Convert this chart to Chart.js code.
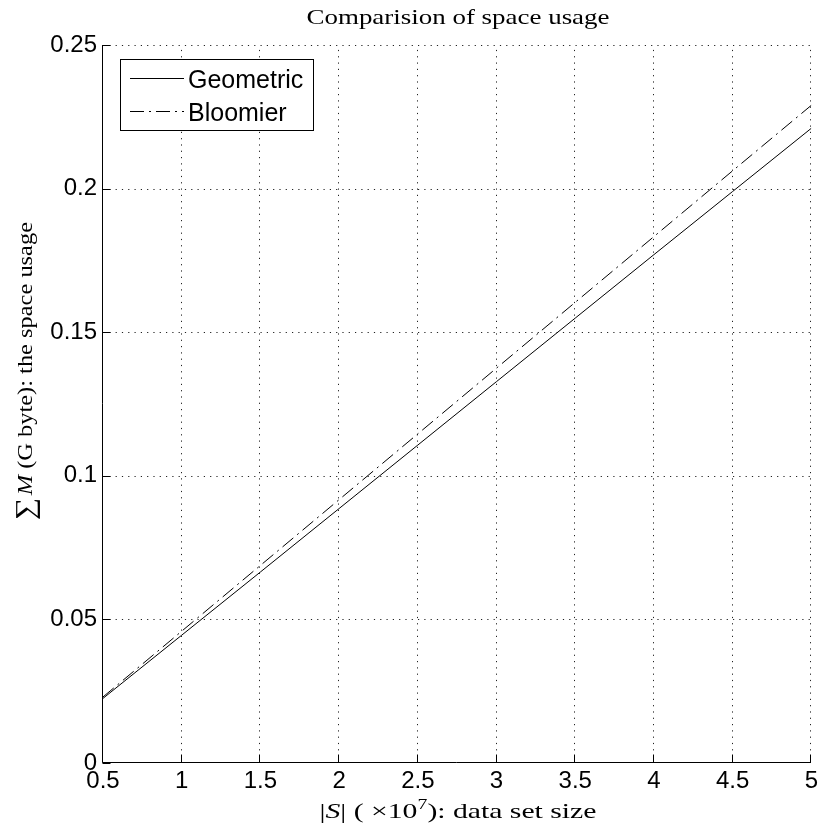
<!DOCTYPE html>
<html><head><meta charset="utf-8">
<script src="https://cdn.jsdelivr.net/npm/chart.js@4/dist/chart.umd.min.js"></script>
<style>html,body{margin:0;padding:0;background:#fff;}#wrap{width:822px;height:831px;position:relative;}</style>
</head><body><div id="wrap"><canvas id="c" width="822" height="831"></canvas></div>
<script>
const titleText = 'Comparision of space usage';
const seriesNames = ['Geometric', 'Bloomier'];
const xValues = [0.5, 1, 1.5, 2, 2.5, 3, 3.5, 4, 4.5, 5];
const geometric = [0.0225, 0.0445, 0.0665, 0.0886, 0.1107, 0.1328, 0.1549, 0.1770, 0.1990, 0.2210];
const bloomier = [0.0230, 0.0459, 0.0688, 0.0917, 0.1146, 0.1375, 0.1604, 0.1833, 0.2062, 0.2290];
const xTicks = [0.5, 1, 1.5, 2, 2.5, 3, 3.5, 4, 4.5, 5];
const xTickLabels = ['0.5', '1', '1.5', '2', '2.5', '3', '3.5', '4', '4.5', '5'];
const yTicks = [0, 0.05, 0.1, 0.15, 0.2, 0.25];
const yTickLabels = ['0', '0.05', '0.1', '0.15', '0.2', '0.25'];

const SANS = '"Liberation Sans", Arial, sans-serif';
const SERIF = '"Liberation Serif", "DejaVu Serif", serif';

function drawFitted(ctx, pieces, targetWidth) {
  let total = 0;
  pieces.forEach(p => { ctx.font = p.font; p.w = ctx.measureText(p.t).width + (p.gap || 0); total += p.w; });
  const sx = targetWidth / total;
  ctx.save();
  ctx.scale(sx, 1);
  let xp = -total / 2;
  ctx.textBaseline = 'alphabetic';
  ctx.textAlign = 'left';
  ctx.fillStyle = '#000';
  pieces.forEach(p => { ctx.font = p.font; ctx.fillText(p.t, xp, p.dy || 0); xp += p.w; });
  ctx.restore();
}

const matlabPlugin = {
  id: 'matlab',
  beforeDatasetsDraw(chart) {
    const { ctx, chartArea: a, scales: { x, y } } = chart;
    ctx.save();
    ctx.strokeStyle = '#222';
    ctx.lineWidth = 1;
    ctx.setLineDash([1.2, 5.1]);
    xTicks.forEach(v => {
      if (v === x.min) return;
      const px = Math.round(x.getPixelForValue(v)) - 0.5;
      ctx.beginPath(); ctx.moveTo(px, a.bottom); ctx.lineTo(px, a.top); ctx.stroke();
    });
    yTicks.forEach(v => {
      if (v === y.min) return;
      const py = Math.round(y.getPixelForValue(v)) + 0.5;
      ctx.beginPath(); ctx.moveTo(a.left, py); ctx.lineTo(a.right, py); ctx.stroke();
    });
    ctx.restore();
  },
  afterDatasetsDraw(chart) {
    const { ctx, chartArea: a, scales: { x, y } } = chart;
    ctx.save();
    ctx.strokeStyle = '#000';
    ctx.lineWidth = 1;
    ctx.setLineDash([]);
    const L = Math.round(a.left) - 0.5, B = Math.round(a.bottom) - 0.5;
    ctx.beginPath();
    ctx.moveTo(L, Math.round(a.top)); ctx.lineTo(L, B); ctx.lineTo(Math.round(a.right), B);
    ctx.stroke();
    const tl = 8;
    xTicks.forEach(v => {
      const px = Math.round(x.getPixelForValue(v)) - 0.5;
      ctx.beginPath(); ctx.moveTo(px, B); ctx.lineTo(px, B - tl); ctx.stroke();
    });
    yTicks.forEach(v => {
      const py = Math.round(y.getPixelForValue(v)) + 0.5;
      ctx.beginPath(); ctx.moveTo(L, py); ctx.lineTo(L + tl, py); ctx.stroke();
    });
    // legend
    const bx = 120.5, by = 59.5, bw = 193, bh = 71;
    ctx.fillStyle = '#fff';
    ctx.fillRect(bx, by, bw, bh);
    ctx.strokeRect(bx, by, bw, bh);
    const rows = [78.5, 111.5];
    chart.data.datasets.forEach((ds, i) => {
      ctx.save();
      ctx.strokeStyle = ds.borderColor;
      ctx.lineWidth = ds.borderWidth;
      ctx.setLineDash(ds.borderDash || []);
      ctx.beginPath(); ctx.moveTo(130, rows[i]); ctx.lineTo(184, rows[i]); ctx.stroke();
      ctx.restore();
      ctx.fillStyle = '#000';
      ctx.font = '25px ' + SANS;
      ctx.textAlign = 'left';
      ctx.textBaseline = 'alphabetic';
      ctx.fillText(ds.label, 188, rows[i] + 9.5);
    });
    ctx.restore();
  },
  afterDraw(chart) {
    const ctx = chart.ctx;
    ctx.save();
    ctx.translate(458, 24);
    drawFitted(ctx, [{ t: titleText, font: '22px ' + SERIF }], 303);
    ctx.restore();
    ctx.save();
    ctx.translate(458, 818);
    drawFitted(ctx, [
      { t: '|', font: '21px ' + SERIF },
      { t: 'S', font: 'italic 21px ' + SERIF },
      { t: '| ( \u00d710', font: '21px ' + SERIF },
      { t: '7', font: '14px ' + SERIF, dy: -9 },
      { t: '): data set size', font: '21px ' + SERIF }
    ], 277);
    ctx.restore();
    ctx.save();
    ctx.translate(32, 371);
    ctx.rotate(-Math.PI / 2);
    drawFitted(ctx, [
      { t: '\u2211', font: '27px ' + SERIF, dy: 2, gap: 2 },
      { t: 'M', font: 'italic 21px ' + SERIF },
      { t: ' (G byte): the space usage', font: '21px ' + SERIF }
    ], 298);
    ctx.restore();
  }
};

const mk = vals => xValues.map((xv, i) => ({ x: xv, y: vals[i] }));

new Chart(document.getElementById('c'), {
  type: 'line',
  data: {
    datasets: [
      { label: seriesNames[0], data: mk(geometric), borderColor: '#000', borderWidth: 1, pointRadius: 0, tension: 0, fill: false },
      { label: seriesNames[1], data: mk(bloomier), borderColor: '#000', borderWidth: 1, borderDash: [14, 5, 2, 5], pointRadius: 0, tension: 0, fill: false }
    ]
  },
  options: {
    responsive: false,
    animation: false,
    devicePixelRatio: 1,
    layout: { padding: { left: 0, right: 10, top: 45, bottom: 0 } },
    plugins: { legend: { display: false }, title: { display: false }, tooltip: { enabled: false } },
    scales: {
      x: {
        type: 'linear', min: 0.5, max: 5,
        afterBuildTicks: s => { s.ticks = xTicks.map(v => ({ value: v })); },
        afterFit: s => { s.height = 68; },
        ticks: { autoSkip: false, maxRotation: 0, padding: 4, color: '#000', font: { family: SANS, size: 24 },
          callback: (v) => { const i = xTicks.indexOf(v); return i >= 0 ? xTickLabels[i] : ''; } },
        grid: { display: false, drawTicks: false },
        border: { display: false }
      },
      y: {
        type: 'linear', min: 0, max: 0.25,
        afterBuildTicks: s => { s.ticks = yTicks.map(v => ({ value: v })); },
        afterFit: s => { s.width = 103; },
        ticks: { autoSkip: false, padding: 6, color: '#000', font: { family: SANS, size: 24 },
          callback: (v) => { const i = yTicks.findIndex(t => Math.abs(t - v) < 1e-9); return i >= 0 ? yTickLabels[i] : ''; } },
        grid: { display: false, drawTicks: false },
        border: { display: false }
      }
    }
  },
  plugins: [matlabPlugin]
});
</script>
</body></html>
